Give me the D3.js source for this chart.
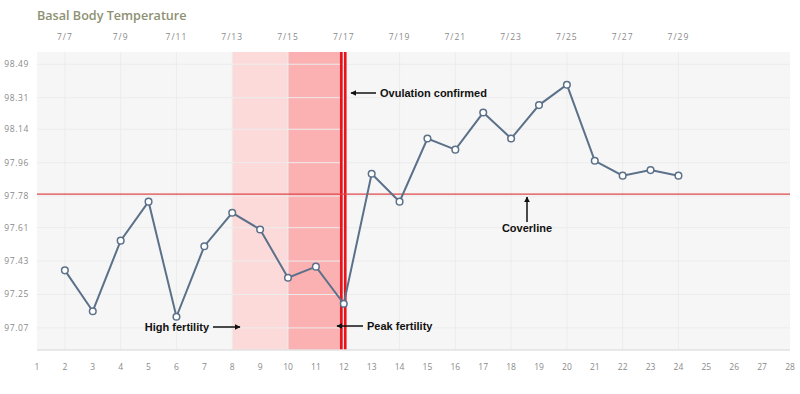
<!DOCTYPE html>
<html>
<head>
<meta charset="utf-8">
<script src="https://cdn.jsdelivr.net/npm/d3@7"></script>
<style>
  body { margin: 0; background: #fff; }
  text { font-family: "Open Sans", sans-serif; }
</style>
</head>
<body>
<div id="chart"></div>
<script>
// data
var days = [2, 3, 4, 5, 6, 7, 8, 9, 10, 11, 12, 13, 14, 15, 16, 17, 18, 19, 20, 21, 22, 23, 24];
var temps = [97.38, 97.16, 97.54, 97.75, 97.13, 97.51, 97.69, 97.60, 97.34, 97.40, 97.20,
             97.90, 97.75, 98.09, 98.03, 98.23, 98.09, 98.27, 98.38, 97.97, 97.89, 97.92, 97.89];
var yTicks = [97.07, 97.25, 97.43, 97.61, 97.78, 97.96, 98.14, 98.31, 98.49];
var dayTicks = d3.range(1, 29);
var dateDays = [2, 4, 6, 8, 10, 12, 14, 16, 18, 20, 22, 24];
var dateLabels = ["7/7", "7/9", "7/11", "7/13", "7/15", "7/17", "7/19", "7/21", "7/23", "7/25", "7/27", "7/29"];
var coverline = 97.79;
var highFertility = [8, 10];
var peakFertility = [10, 12];
var ovulationDay = 12;

var width = 800, height = 394;
var plotLeft = 37, plotRight = 790, plotTop = 52, plotBottom = 350;

var svg = d3.select("#chart").append("svg")
  .attr("width", width)
  .attr("height", height);

var defs = svg.append("defs");
defs.append("marker")
  .attr("id", "arrow")
  .attr("viewBox", "0 0 10 10")
  .attr("refX", 9).attr("refY", 5)
  .attr("markerWidth", 6).attr("markerHeight", 6)
  .attr("markerUnits", "userSpaceOnUse")
  .attr("orient", "auto")
  .append("path")
  .attr("d", "M0,0 L10,5 L0,10 z")
  .attr("fill", "#111");

var x = d3.scaleLinear().domain([1, 28]).range([plotLeft, plotRight]);
var y = d3.scaleLinear().domain([96.951, 98.556]).range([plotBottom, plotTop]);

// title
svg.append("text")
  .attr("x", 37).attr("y", 20)
  .text("Basal Body Temperature")
  .style("font-size", "12.6px")
  .style("font-weight", "600")
  .style("fill", "#8d9173");

// plot background
svg.append("rect")
  .attr("x", plotLeft).attr("y", plotTop)
  .attr("width", plotRight - plotLeft).attr("height", plotBottom - plotTop)
  .attr("fill", "#f6f6f6");

// fertility bands
svg.append("rect")
  .attr("x", x(highFertility[0])).attr("y", plotTop)
  .attr("width", x(highFertility[1]) - x(highFertility[0])).attr("height", plotBottom - plotTop)
  .attr("fill", "#fddada");
svg.append("rect")
  .attr("x", x(peakFertility[0])).attr("y", plotTop)
  .attr("width", x(peakFertility[1]) - x(peakFertility[0])).attr("height", plotBottom - plotTop)
  .attr("fill", "#fbb1b2");

// grid
svg.append("g")
  .selectAll("line")
  .data(yTicks)
  .enter().append("line")
    .attr("x1", plotLeft).attr("x2", plotRight)
    .attr("y1", function(d) { return y(d); })
    .attr("y2", function(d) { return y(d); })
    .attr("stroke", "#ececec");
svg.append("g")
  .selectAll("line")
  .data(dateDays)
  .enter().append("line")
    .attr("x1", function(d) { return x(d); })
    .attr("x2", function(d) { return x(d); })
    .attr("y1", plotTop).attr("y2", plotBottom)
    .attr("stroke", "#ececec");

// ovulation double red line
[-2, 2].forEach(function(o) {
  svg.append("line")
    .attr("x1", x(ovulationDay) + o - 0.5).attr("x2", x(ovulationDay) + o - 0.5)
    .attr("y1", plotTop).attr("y2", plotBottom)
    .attr("stroke", "#e8141c")
    .attr("stroke-width", 2.6);
});

// coverline
svg.append("line")
  .attr("x1", plotLeft).attr("x2", plotRight)
  .attr("y1", y(coverline)).attr("y2", y(coverline))
  .attr("stroke", "#e0474a")
  .attr("stroke-width", 1.3);

// bottom axis line
svg.append("line")
  .attr("x1", plotLeft).attr("x2", plotRight)
  .attr("y1", plotBottom).attr("y2", plotBottom)
  .attr("stroke", "#e2e2e2")
  .attr("stroke-width", 1.5);

// y labels
svg.append("g")
  .selectAll("text")
  .data(yTicks)
  .enter().append("text")
    .attr("x", 29)
    .attr("y", function(d) { return y(d); })
    .attr("dy", "0.35em")
    .attr("text-anchor", "end")
    .style("font-size", "8.5px")
    .style("letter-spacing", "0.6px")
    .style("fill", "#8a8a8a")
    .text(function(d) { return d.toFixed(2); });

// bottom day labels
svg.append("g")
  .selectAll("text")
  .data(dayTicks)
  .enter().append("text")
    .attr("x", function(d) { return x(d); })
    .attr("y", 367)
    .attr("dy", "0.35em")
    .attr("text-anchor", "middle")
    .style("font-size", "8.5px")
    .style("fill", "#8a8a8a")
    .text(function(d) { return d; });

// top date labels
svg.append("g")
  .selectAll("text")
  .data(dateDays)
  .enter().append("text")
    .attr("x", function(d) { return x(d); })
    .attr("y", 37)
    .attr("dy", "0.35em")
    .attr("text-anchor", "middle")
    .style("font-size", "8.5px")
    .style("letter-spacing", "1px")
    .style("fill", "#8a8a8a")
    .text(function(d, i) { return dateLabels[i]; });

// temperature line
var pts = days.map(function(d, i) { return [d, temps[i]]; });
svg.append("path")
  .datum(pts)
  .attr("fill", "none")
  .attr("stroke", "#5b7089")
  .attr("stroke-width", 2)
  .attr("d", d3.line()
    .x(function(d) { return x(d[0]); })
    .y(function(d) { return y(d[1]); }));

svg.append("g")
  .selectAll("circle")
  .data(pts)
  .enter().append("circle")
    .attr("cx", function(d) { return x(d[0]); })
    .attr("cy", function(d) { return y(d[1]); })
    .attr("r", 3.3)
    .attr("fill", "#fff")
    .attr("stroke", "#5b7089")
    .attr("stroke-width", 1.5);

// annotations
function arrow(x1, y1, x2, y2) {
  svg.append("line")
    .attr("x1", x1).attr("y1", y1).attr("x2", x2).attr("y2", y2)
    .attr("stroke", "#111")
    .attr("stroke-width", 1.5)
    .attr("marker-end", "url(#arrow)");
}
function label(tx, ty, anchor, s) {
  svg.append("text")
    .attr("x", tx).attr("y", ty)
    .attr("dy", "0.35em")
    .attr("text-anchor", anchor)
    .style("font-family", "'Liberation Sans', Arial, sans-serif")
    .style("font-weight", "bold")
    .style("font-size", "11px")
    .style("fill", "#111")
    .text(s);
}

arrow(376, 93, 351, 93);
label(380, 93, "start", "Ovulation confirmed");

arrow(527, 222, 527, 197);
label(527, 228, "middle", "Coverline");

arrow(213, 327, 240, 327);
label(209, 327, "end", "High fertility");

arrow(363, 326, 337, 326);
label(367, 326, "start", "Peak fertility");
</script>
</body>
</html>
